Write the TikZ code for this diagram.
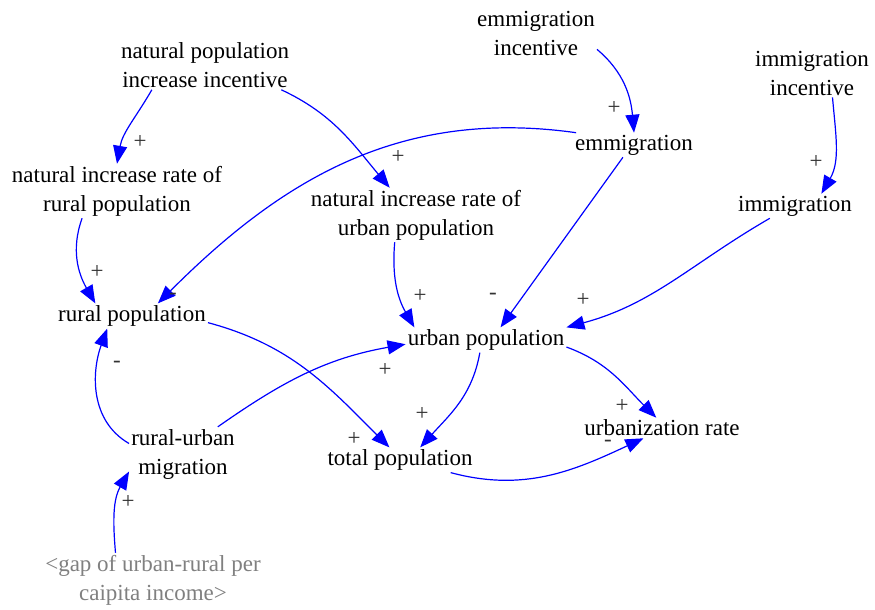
\documentclass[tikz,border=0pt]{standalone}
\usepackage{fontspec}
\setmainfont{Liberation Serif}
\usetikzlibrary{arrows.meta}
\definecolor{xBlue}{RGB}{0,0,255}
\definecolor{xGray}{RGB}{128,128,128}
\definecolor{xSign}{RGB}{50,50,50}
\tikzset{
  var/.style={align=center, font=\fontsize{23}{29}\selectfont, inner sep=2pt},
  shadowvar/.style={align=center, font=\fontsize{23}{29}\selectfont, inner sep=2pt, text=xGray},
  sgn/.style={font=\fontsize{23}{23}\selectfont, text=xSign, inner sep=0pt},
  link/.style={-{Triangle[length=18pt, width=14pt]}, xBlue, line width=1.2pt},
}

\begin{document}
\begin{tikzpicture}[x=1pt, y=1pt]
    \useasboundingbox (0,0) rectangle (875,-610);
    % variables
    \node[var] (npi)   at (205,-65)  {natural population\\increase incentive};
    \node[var] (emi)   at (536,-33)  {emmigration\\incentive};
    \node[var] (imi)   at (812,-73)  {immigration\\incentive};
    \node[var] (nrr)   at (117,-191) {natural increase rate of\\rural population};
    \node[var] (em)    at (634,-145) {emmigration};
    \node[var] (nru)   at (416,-215) {natural increase rate of\\urban population};
    \node[var] (im)    at (795,-206) {immigration};
    \node[var] (rp)    at (132,-316) {rural population};
    \node[var] (up)    at (486,-340) {urban population};
    \node[var] (rum)   at (183,-454) {rural-urban\\migration};
    \node[var] (tp)    at (400,-460) {total population};
    \node[var] (ur)    at (662,-428) {urbanization rate};
    \node[shadowvar] (gap) at (153,-580) {<gap of urban-rural per\\caipita income>};
    % links
    \draw[link] (npi.205) to[out=240, in=80] (nrr.north);
    \draw[link] (npi.-18) to[out=-25, in=130] (nru.134);
    \draw[link] (emi.-15) to[out=-40, in=95] (em.north);
    \draw[link] (imi.-50) to[out=-85, in=60] (im.25);
    \draw[link] (nrr.218) to[out=250, in=120] (rp.161);
    \draw[link] (em.168) to[out=172, in=45] (rp.26);
    \draw[link] (nru.232) to[out=265, in=120] (up.170);
    \draw[link] (em.228) -- (up.41);
    \draw[link] (im.206) to[out=210, in=15] (up.north east);
    \draw[link] (rum.169) to[out=150, in=250] (rp.207);
    \draw[link] (rum.38) to[out=35, in=190] (up.183);
    \draw[link] (rp.-5) to[out=-15, in=135] (tp.130);
    \draw[link] (up.244) to[out=-100, in=48] (tp.32);
    \draw[link] (up.-5) to[out=-20, in=135] (ur.119);
    \draw[link] (tp.-14) to[out=-15, in=205] (ur.209);
    \draw[link] (gap.144) to[out=95, in=240] (rum.198);
    % polarities
    \node[sgn] (s1)  at (140,-142) {+};
    \node[sgn] (s2)  at (398,-157) {+};
    \node[sgn] (s3)  at (614,-108) {+};
    \node[sgn] (s4)  at (816,-162) {+};
    \node[sgn] (s5)  at (97,-272)  {+};
    \node[sgn] (s6)  at (173,-296) {-};
    \node[sgn] (s7)  at (420,-296) {+};
    \node[sgn] (s8)  at (493,-296) {-};
    \node[sgn] (s9)  at (583,-300) {+};
    \node[sgn] (s10) at (117,-364) {-};
    \node[sgn] (s11) at (385,-370) {+};
    \node[sgn] (s12) at (354,-439) {+};
    \node[sgn] (s13) at (422,-414) {+};
    \node[sgn] (s14) at (622,-406) {+};
    \node[sgn] (s15) at (608,-443) {-};
    \node[sgn] (s16) at (128,-502) {+};
\end{tikzpicture}
\end{document}
